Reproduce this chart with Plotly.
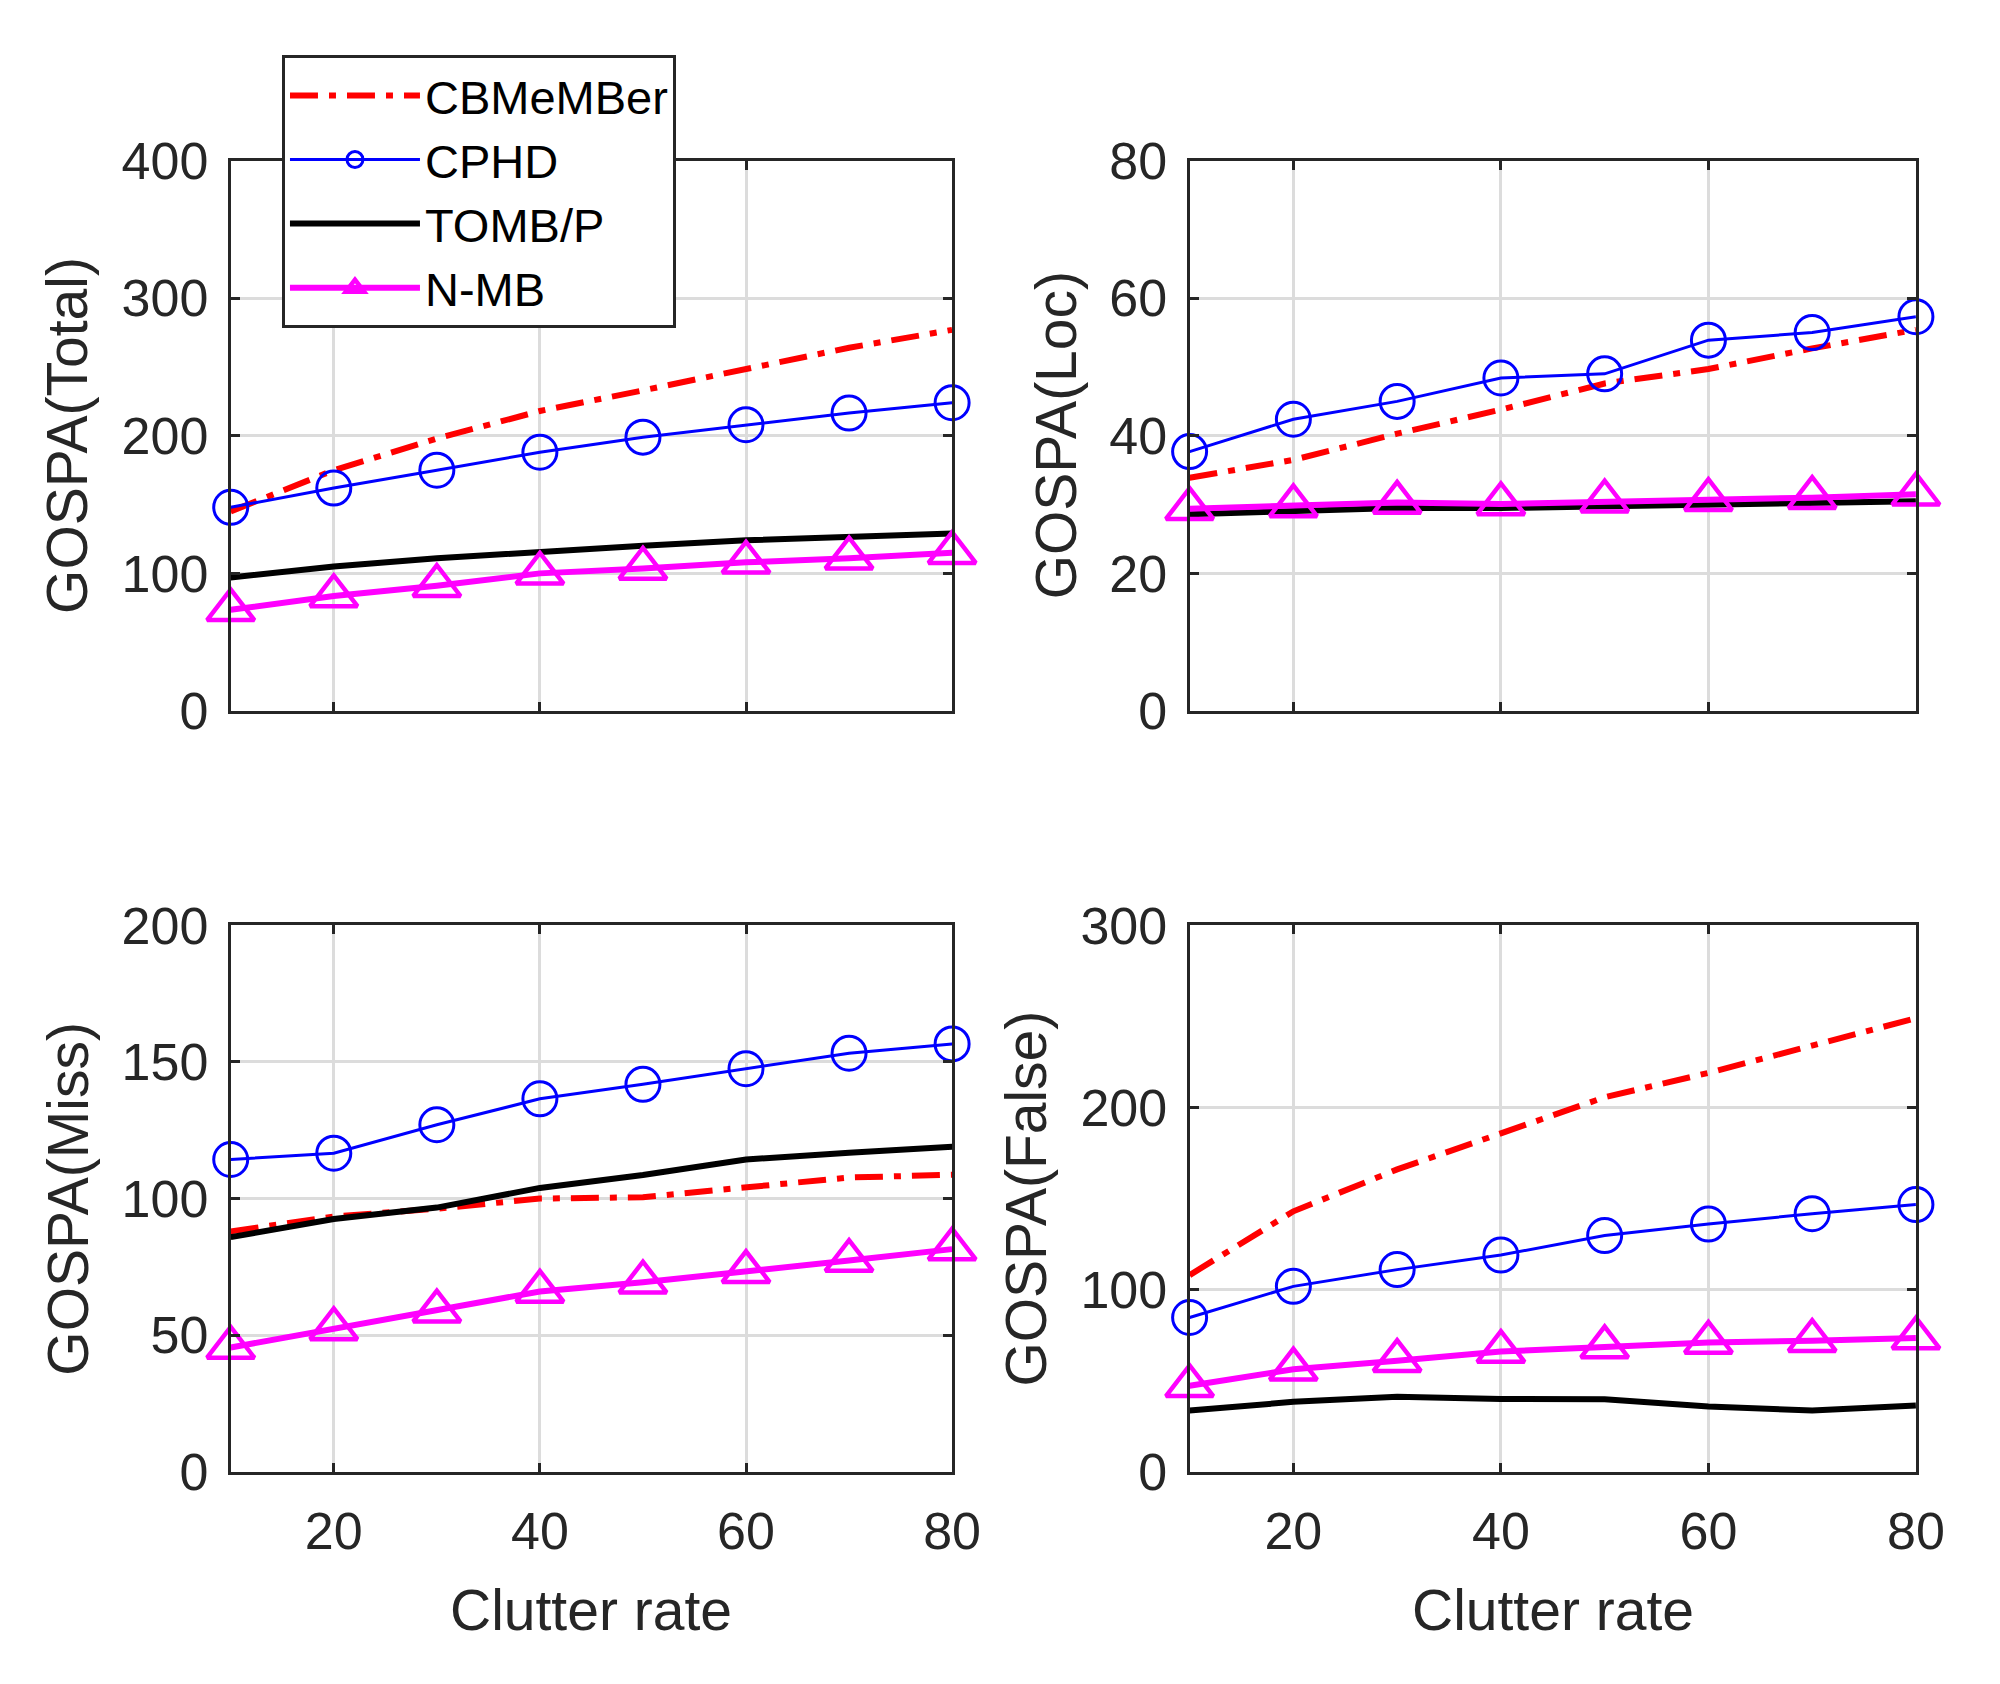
import plotly.graph_objects as go

clutter = [10, 20, 30, 40, 50, 60, 70, 80]
series_names = ["CBMeMBer", "CPHD", "TOMB/P", "N-MB"]

total_cbmember = [145, 175, 198, 218, 233, 249, 264, 277]
total_cphd = [148, 162, 175, 188, 199, 208, 216.5, 224]
total_tomb = [97, 105, 111, 116, 120, 124, 126, 129]
total_nmb = [73.5, 83.6, 91, 100, 103.6, 108, 111, 115]

loc_cbmember = [33.9, 36.5, 40.3, 43.8, 47.6, 49.7, 52.7, 55.4]
loc_cphd = [37.7, 42.4, 45.0, 48.4, 49.0, 53.9, 55.0, 57.3]
loc_tomb = [28.6, 29.0, 29.5, 29.5, 29.8, 30.1, 30.3, 30.5]
loc_nmb = [29.4, 29.8, 30.3, 30.1, 30.5, 30.7, 31.0, 31.5]

miss_cbmember = [88, 93.4, 96.3, 100, 100.5, 103.9, 107.7, 108.7]
miss_cphd = [114.3, 116.6, 127, 136.5, 141.8, 147.5, 153.2, 156.6]
miss_tomb = [85.9, 92.5, 96.7, 103.9, 108.6, 114.3, 116.8, 119]
miss_nmb = [45.5, 52.3, 58.8, 66, 69.4, 73.2, 77.3, 81.5]

false_cbmember = [108, 143, 166, 186, 205.6, 219, 234, 249]
false_cphd = [84.7, 101.8, 111, 119, 129.7, 136, 141.7, 146.7]
false_tomb = [33.6, 38.4, 41.2, 40, 39.8, 35.8, 33.6, 36.4]
false_nmb = [47.2, 56.3, 61, 66, 68.5, 71, 72, 73.4]

panels = [
    ("GOSPA(Total)", [total_cbmember, total_cphd, total_tomb, total_nmb], [0, 400], [0, 100, 200, 300, 400]),
    ("GOSPA(Loc)", [loc_cbmember, loc_cphd, loc_tomb, loc_nmb], [0, 80], [0, 20, 40, 60, 80]),
    ("GOSPA(Miss)", [miss_cbmember, miss_cphd, miss_tomb, miss_nmb], [0, 200], [0, 50, 100, 150, 200]),
    ("GOSPA(False)", [false_cbmember, false_cphd, false_tomb, false_nmb], [0, 300], [0, 100, 200, 300]),
]
x_ticks = [20, 40, 60, 80]
x_title = "Clutter rate"

W, H = 2000, 1684
FONT = "Liberation Sans, Arial, sans-serif"
AXC = "#262626"

# pixel boxes of the four axes (left, right, top, bottom)
boxes = [(226, 958, 128, 698), (1199, 1936, 128, 698),
         (226, 958, 920, 1486), (1199, 1936, 920, 1486)]
ytitle_x = [60, 1063, 60, 1033]

styles = [
    dict(mode="lines", line=dict(color="#ff0000", width=6, dash="28px,11px,7px,11px")),
    dict(mode="lines+markers", line=dict(color="#0000ff", width=3),
         marker=dict(symbol="circle-open", size=34, color="#0000ff", line=dict(width=3, color="#0000ff"))),
    dict(mode="lines", line=dict(color="#000000", width=6)),
    dict(mode="lines+markers", line=dict(color="#ff00ff", width=6),
         marker=dict(symbol="triangle-up-open", size=41, color="#ff00ff", line=dict(width=4.5, color="#ff00ff"))),
]

fig = go.Figure()
annotations = []
for i, (ytitle, data, yrange, yticks) in enumerate(panels):
    n = "" if i == 0 else str(i + 1)
    l, r, t, b = boxes[i]
    xdom = [l / W, r / W]
    ydom = [1 - b / H, 1 - t / H]
    for j, ys in enumerate(data):
        fig.add_trace(go.Scatter(
            x=clutter, y=ys, name=series_names[j], showlegend=(i == 0),
            xaxis="x" + n, yaxis="y" + n, cliponaxis=False, **styles[j]))
    common = dict(showline=True, linewidth=3, linecolor=AXC, mirror="ticks",
                  ticks="inside", ticklen=9, tickwidth=3, tickcolor=AXC,
                  showgrid=True, gridcolor="#dcdcdc", gridwidth=3, zeroline=False,
                  tickfont=dict(family=FONT, size=52, color=AXC))
    fig.update_layout(**{
        "xaxis" + n: dict(domain=xdom, range=[10, 80], tickvals=x_ticks,
                          showticklabels=(i >= 2), anchor="y" + n,
                          ticklabelstandoff=12, **common),
        "yaxis" + n: dict(domain=ydom, range=yrange, tickvals=yticks,
                          anchor="x" + n, ticklabelstandoff=9, **common),
    })
    annotations.append(dict(text=ytitle, x=ytitle_x[i] / W, y=1 - (t + b) / 2 / H,
                            xref="paper", yref="paper", textangle=-90,
                            xanchor="center", yanchor="middle", showarrow=False,
                            font=dict(family=FONT, size=57, color=AXC)))
    if i >= 2:
        annotations.append(dict(text=x_title, x=(l + r) / 2 / W, y=1 - 1629 / H,
                                xref="paper", yref="paper", xanchor="center",
                                yanchor="middle", showarrow=False,
                                font=dict(family=FONT, size=57, color=AXC)))

fig.update_layout(
    width=W, height=H, margin=dict(l=0, r=0, t=0, b=0),
    paper_bgcolor="white", plot_bgcolor="white",
    annotations=annotations,
    legend=dict(x=278 / W, y=1 - 19 / H, xanchor="left", yanchor="top",
                bgcolor="white", bordercolor=AXC, borderwidth=3,
                font=dict(family=FONT, size=47, color="#000000"),
                itemwidth=130, tracegroupgap=0),
)

fig.write_html("out.html")
